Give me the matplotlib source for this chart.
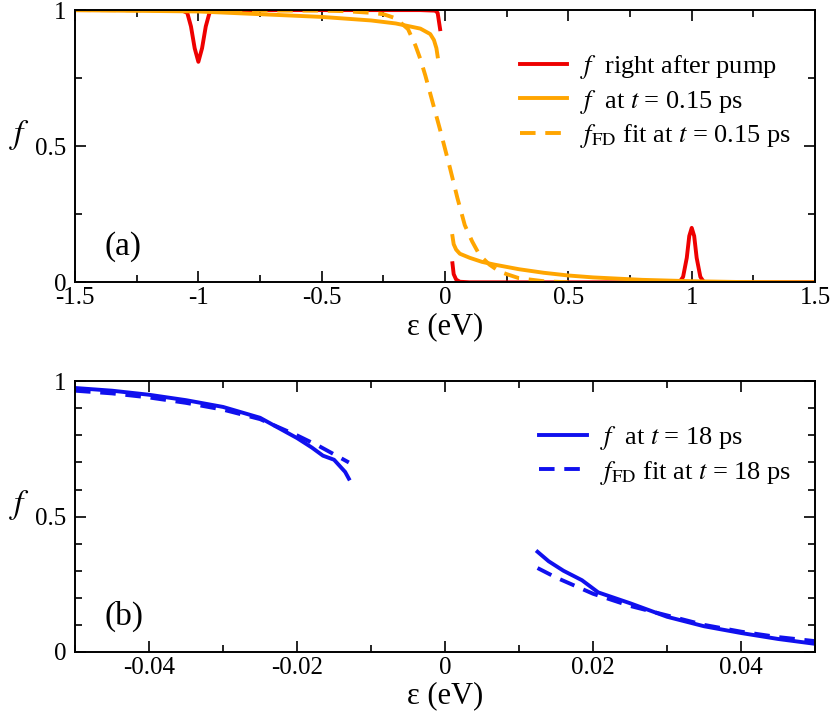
import matplotlib
matplotlib.use("Agg")
import matplotlib.pyplot as plt
from matplotlib.ticker import MultipleLocator

plt.rcParams['font.family'] = ['Liberation Serif', 'DejaVu Serif']
plt.rcParams['mathtext.fontset'] = 'stix'

# panel (a): right after pump (red), split around the gap
red_left_x = [-1.5, -1.07, -1.045, -1.03, -1.015, -1.0, -0.985, -0.97, -0.955, -0.93, -0.5, -0.1, -0.04, -0.03, -0.025, -0.02]
red_left_y = [1.0, 1.0, 0.99, 0.94, 0.86, 0.81, 0.86, 0.94, 0.99, 1.0, 1.0, 1.0, 0.998, 0.99, 0.96, 0.93]
red_right_x = [0.03, 0.035, 0.045, 0.06, 0.1, 0.5, 0.95, 0.965, 0.98, 0.99, 1.0, 1.01, 1.02, 1.035, 1.05, 1.5]
red_right_y = [0.07, 0.03, 0.01, 0.002, 0.0, 0.0, 0.0, 0.02, 0.09, 0.17, 0.2, 0.17, 0.09, 0.02, 0.0, 0.0]

# f at t = 0.15 ps (orange solid)
or_left_x = [-1.5, -1.0, -0.75, -0.5, -0.3, -0.2, -0.1, -0.06, -0.045, -0.035, -0.03]
or_left_y = [1.0, 0.995, 0.985, 0.975, 0.962, 0.951, 0.932, 0.912, 0.89, 0.86, 0.83]
or_right_x = [0.03, 0.035, 0.045, 0.06, 0.1, 0.15, 0.2, 0.3, 0.4, 0.5, 0.6, 0.8, 1.0, 1.2, 1.5]
or_right_y = [0.17, 0.14, 0.12, 0.105, 0.09, 0.075, 0.065, 0.048, 0.035, 0.025, 0.018, 0.009, 0.004, 0.001, 0.0]

# FD fit at t = 0.15 ps (orange dashed)
fd1_x = [-1.5, -0.5, -0.4, -0.3, -0.25, -0.2, -0.15, -0.12, -0.1, -0.08, -0.05, -0.02, 0.0, 0.02, 0.05, 0.08, 0.11, 0.14, 0.18, 0.22, 0.25, 0.3, 0.4, 0.5]
fd1_y = [1.0, 0.998, 0.996, 0.99, 0.985, 0.97, 0.93, 0.87, 0.82, 0.76, 0.66, 0.56, 0.49, 0.42, 0.31, 0.21, 0.15, 0.1, 0.065, 0.04, 0.03, 0.015, 0.004, 0.0]

# panel (b): t = 18 ps (blue)
b_left_x = [-0.05, -0.045, -0.04, -0.035, -0.03, -0.025, -0.02, -0.018, -0.0165, -0.015, -0.0135, -0.013]
b_left_y = [0.975, 0.965, 0.95, 0.93, 0.905, 0.865, 0.79, 0.755, 0.725, 0.71, 0.665, 0.64]
b_right_x = [0.0125, 0.014, 0.016, 0.0185, 0.0207, 0.025, 0.03, 0.035, 0.04, 0.045, 0.05]
b_right_y = [0.37, 0.335, 0.3, 0.265, 0.22, 0.18, 0.13, 0.095, 0.07, 0.048, 0.03]
bfd_left_x = [-0.05, -0.045, -0.04, -0.035, -0.03, -0.025, -0.02, -0.017, -0.013]
bfd_left_y = [0.965, 0.955, 0.94, 0.92, 0.895, 0.86, 0.8, 0.76, 0.7]
bfd_right_x = [0.0125, 0.015, 0.02, 0.025, 0.03, 0.035, 0.04, 0.045, 0.05]
bfd_right_y = [0.31, 0.275, 0.215, 0.17, 0.135, 0.1, 0.075, 0.055, 0.04]

RED = '#ee0000'
ORANGE = '#ffa500'
BLUE = '#1010ee'

fig = plt.figure(figsize=(8.3, 7.22), dpi=100)
ax1 = fig.add_axes([0.0904, 0.609, 0.8916, 0.377])
ax2 = fig.add_axes([0.0904, 0.097, 0.8916, 0.375])

lw = 2.8
dash = (0, (4, 2.5))
ax1.plot(red_left_x, red_left_y, color=RED, lw=lw, label=r'$f$  right after pump')
ax1.plot(red_right_x, red_right_y, color=RED, lw=lw)
ax1.plot(or_left_x, or_left_y, color=ORANGE, lw=lw, label=r'$f$  at $t$ = 0.15 ps')
ax1.plot(or_right_x, or_right_y, color=ORANGE, lw=lw)
ax1.plot(fd1_x, fd1_y, color=ORANGE, lw=lw, ls=dash, label=r'$f_{\rm FD}$ fit at $t$ = 0.15 ps')
ax1.set_xlim(-1.5, 1.5)
ax1.set_ylim(0, 1)
ax1.set_xticks([-1.5, -1, -0.5, 0, 0.5, 1, 1.5])
ax1.set_xticklabels(['-1.5', '-1', '-0.5', '0', '0.5', '1', '1.5'])
ax1.xaxis.set_minor_locator(MultipleLocator(0.25))
ax1.set_xlabel('ε (eV)', fontsize=22, labelpad=2)
ax1.text(0.04, 0.1, '(a)', transform=ax1.transAxes, fontsize=24)
ax1.legend(loc='upper right', bbox_to_anchor=(1.0, 0.93), frameon=False, fontsize=19,
           handlelength=1.8, labelspacing=0.25, handletextpad=0.5)

ax2.plot(b_left_x, b_left_y, color=BLUE, lw=lw, label=r'$f$  at $t$ = 18 ps')
ax2.plot(b_right_x, b_right_y, color=BLUE, lw=lw)
ax2.plot(bfd_left_x, bfd_left_y, color=BLUE, lw=lw, ls=dash, label=r'$f_{\rm FD}$ fit at $t$ = 18 ps')
ax2.plot(bfd_right_x, bfd_right_y, color=BLUE, lw=lw, ls=dash)
ax2.set_xlim(-0.05, 0.05)
ax2.set_ylim(0, 1)
ax2.set_xticks([-0.04, -0.02, 0, 0.02, 0.04])
ax2.set_xticklabels(['-0.04', '-0.02', '0', '0.02', '0.04'])
ax2.xaxis.set_minor_locator(MultipleLocator(0.01))
ax2.set_xlabel('ε (eV)', fontsize=22, labelpad=2)
ax2.text(0.04, 0.1, '(b)', transform=ax2.transAxes, fontsize=24)
ax2.legend(loc='upper right', bbox_to_anchor=(1.0, 0.93), frameon=False, fontsize=19,
           handlelength=1.8, labelspacing=0.25, handletextpad=0.5)

for ax, ymin in ((ax1, 0.25), (ax2, 0.1)):
    ax.set_yticks([0, 0.5, 1])
    ax.set_yticklabels(['0', '0.5', '1'])
    ax.yaxis.set_minor_locator(MultipleLocator(ymin))
    ax.tick_params(which='both', direction='in', top=True, right=True, labelsize=18, width=1.2)
    ax.tick_params(which='major', length=8)
    ax.tick_params(which='minor', length=5)
    ax.tick_params(axis='y', pad=6)
    ax.set_ylabel(r'$f$', fontsize=24, rotation=0, labelpad=8)
    ax.yaxis.set_label_coords(-0.075, 0.48)
    for s in ax.spines.values():
        s.set_linewidth(1.4)

fig.savefig('out.png', dpi=100)
